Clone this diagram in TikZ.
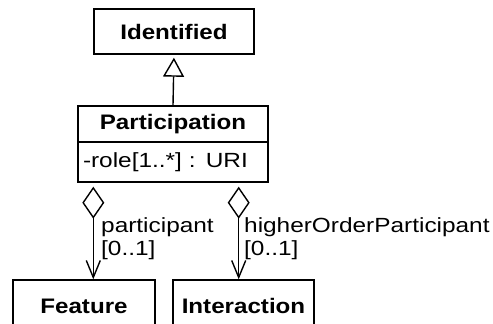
\documentclass[tikz,border=0pt]{standalone}
\usepackage{fontspec}
\setmainfont{Liberation Sans}[UprightFeatures={FakeStretch=1.19}, BoldFeatures={FakeStretch=1.15}]
\usetikzlibrary{arrows.meta}
\begin{document}
\begin{tikzpicture}[x=1pt,y=-1pt,
  every node/.style={font=\fontsize{20.5}{22.5}\selectfont},
  classbox/.style={draw, line width=1.4pt, inner sep=0pt, font=\fontsize{21}{24}\selectfont\bfseries},
  attrbox/.style={draw, line width=1.4pt, inner sep=0pt, inner xsep=5pt, text width=180pt, align=left},
  gen/.style={line width=1.4pt, -{Triangle[open, width=21pt, length=19pt, line width=1.4pt]}, shorten >=3pt},
  agg/.style={line width=1.4pt, {Diamond[open, width=22pt, length=32pt, line width=1.4pt]}-{Straight Barb[length=17pt, width=14pt, line width=1.4pt]}, shorten <=4pt},
  rolelabel/.style={anchor=base west, inner sep=0pt, align=left}
]
\clip (0,0) rectangle (493,324);
\useasboundingbox (0,0) rectangle (493,324);
\node[classbox, minimum width=160pt, minimum height=45pt] (ident) at (174,31.5) {Identified};
\node[classbox, minimum width=190pt, minimum height=36pt] (part) at (173,124) {Participation};
\node[attrbox, minimum height=40pt] (attr) at (173,162) {-role[1..*] : URI};
\node[classbox, minimum width=142pt, minimum height=60pt] (feat) at (84,310) {\raisebox{8pt}{Feature}};
\node[classbox, minimum width=141pt, minimum height=60pt] (inter) at (243.5,310) {\raisebox{8pt}{Interaction}};
\draw[gen] (part.north) -- (ident.south);
\draw[agg] ([xshift=16pt]attr.south west) -- ([xshift=16pt]attr.south west |- feat.north);
\draw[agg] ([xshift=-30pt]attr.south east) -- ([xshift=-30pt]attr.south east |- inter.north);
\node[rolelabel] (lab1) at (101,255) {participant\\{}[0..1]};
\node[rolelabel] (lab2) at (244,255) {higherOrderParticipant\\{}[0..1]};
\end{tikzpicture}
\end{document}
